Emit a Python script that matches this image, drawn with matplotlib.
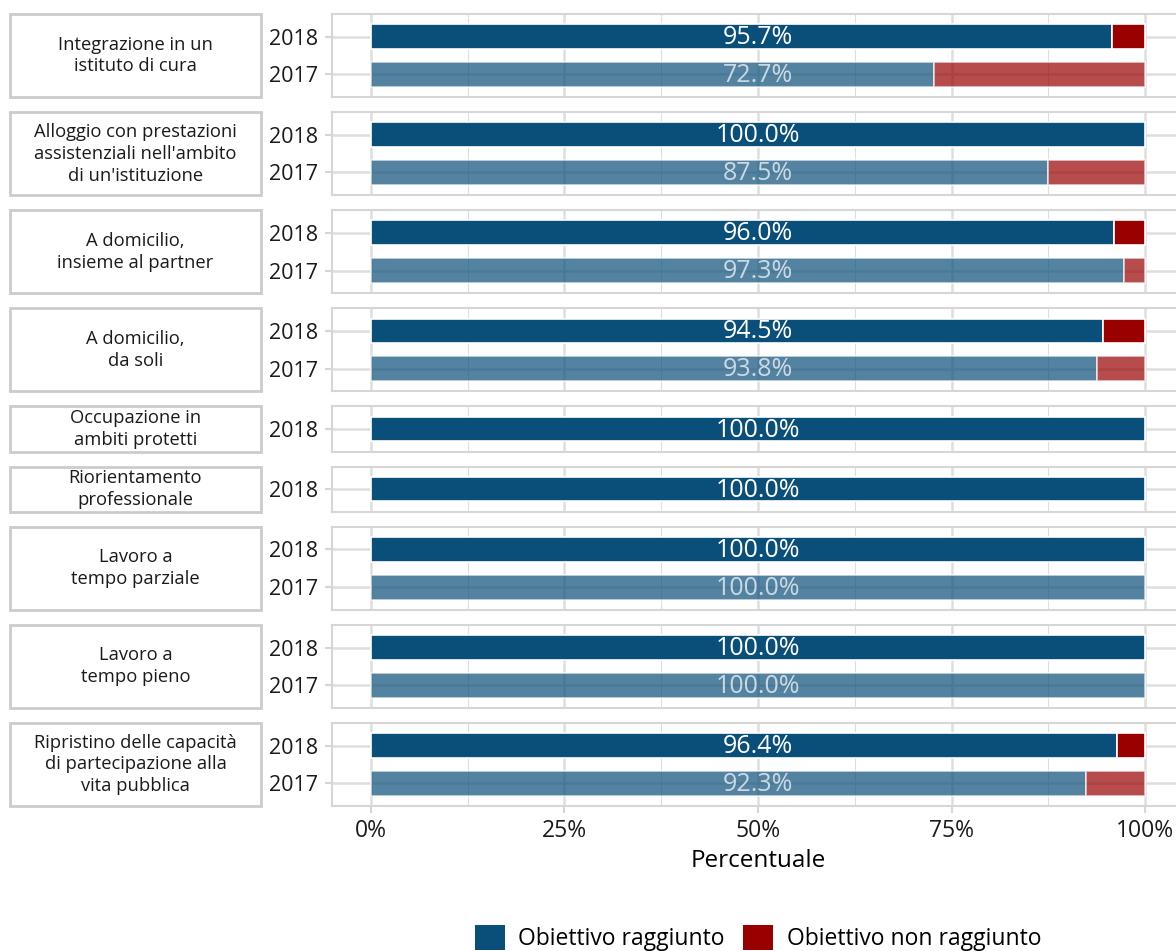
"""Obiettivi raggiunti per tipo di provvedimento, 2017 vs 2018 (facette a strisce)."""

import matplotlib

matplotlib.use("Agg")
import matplotlib.pyplot as plt
from matplotlib.patches import Patch, Rectangle
from matplotlib.ticker import FixedLocator, FuncFormatter

plt.rcParams["font.family"] = ["Open Sans", "DejaVu Sans"]

# --- data -------------------------------------------------------------------
categories = [
    "Integrazione in un\nistituto di cura",
    "Alloggio con prestazioni\nassistenziali nell'ambito\ndi un'istituzione",
    "A domicilio,\ninsieme al partner",
    "A domicilio,\nda soli",
    "Occupazione in\nambiti protetti",
    "Riorientamento\nprofessionale",
    "Lavoro a\ntempo parziale",
    "Lavoro a\ntempo pieno",
    "Ripristino delle capacità\ndi partecipazione alla\nvita pubblica",
]
achieved_2018 = [95.7, 100.0, 96.0, 94.5, 100.0, 100.0, 100.0, 100.0, 96.4]
achieved_2017 = [72.7, 87.5, 97.3, 93.8, None, None, 100.0, 100.0, 92.3]
years = ["2018", "2017"]
x_ticks = [0, 25, 50, 75, 100]
legend_labels = ["Obiettivo raggiunto", "Obiettivo non raggiunto"]

BLUE = "#0a4f79"
RED = "#990000"
GRID = "#dedede"
BORDER = "#d6d6d6"

# --- layout (pixels) ----------------------------------------------------------
W, H = 1176, 951
TOP, BOTTOM, GAP = 14, 806, 15
PANEL_L, PANEL_R = 332, 1184
STRIP_L, STRIP_R = 10, 261

n_bars = [2 if v17 is not None else 1 for v17 in achieved_2017]
ranges = [n - 1 + 1.2 for n in n_bars]
unit = (BOTTOM - TOP - GAP * (len(categories) - 1)) / sum(ranges)

fig = plt.figure(figsize=(W / 100, H / 100), dpi=100)

y_px = TOP
for i, cat in enumerate(categories):
    h_px = ranges[i] * unit
    ax = fig.add_axes([PANEL_L / W, 1 - (y_px + h_px) / H,
                       (PANEL_R - PANEL_L) / W, h_px / H])

    vals = [achieved_2018[i]]
    if achieved_2017[i] is not None:
        vals.append(achieved_2017[i])
    for j, v in enumerate(vals):
        alpha = 1.0 if j == 0 else 0.7
        ax.barh(j, v, height=0.65, color=BLUE, alpha=alpha,
                edgecolor="white", linewidth=1.2, zorder=2)
        if v < 100:
            ax.barh(j, 100 - v, left=v, height=0.65, color=RED, alpha=alpha,
                    edgecolor="white", linewidth=1.2, zorder=2)
        ax.text(50, j + 0.03, f"{v:.1f}%", ha="center", va="center",
                color="white", alpha=alpha, fontsize=18, zorder=3)

    ax.set_xlim(-5, 105)
    ax.set_ylim(len(vals) - 1 + 0.6, -0.6)
    ax.set_yticks(range(len(vals)))
    ax.set_yticklabels(years[:len(vals)])
    ax.xaxis.set_major_locator(FixedLocator(x_ticks))
    ax.xaxis.set_minor_locator(FixedLocator([12.5, 37.5, 62.5, 87.5]))
    ax.set_axisbelow(True)
    ax.grid(which="major", color=GRID, linewidth=1.8)
    ax.grid(which="minor", axis="x", color=GRID, linewidth=0.8)
    for s in ax.spines.values():
        s.set_color(BORDER)
        s.set_linewidth(1.5)
    ax.tick_params(axis="y", length=5, width=1.5, color=BORDER,
                   labelsize=15.5, pad=5, labelcolor="#1a1a1a")
    ax.tick_params(axis="x", which="minor", length=0)

    last = i == len(categories) - 1
    if last:
        ax.tick_params(axis="x", which="major", length=5, width=1.5,
                       color=BORDER, labelsize=16.5, pad=4, labelcolor="#1a1a1a")
        ax.xaxis.set_major_formatter(FuncFormatter(lambda x, _: f"{x:.0f}%"))
        ax.set_xlabel("Percentuale", fontsize=17.5, labelpad=5)
    else:
        ax.tick_params(axis="x", which="major", length=0, labelbottom=False)

    # strip on the left
    fig.add_artist(Rectangle((STRIP_L / W, 1 - (y_px + h_px) / H),
                             (STRIP_R - STRIP_L) / W, h_px / H,
                             transform=fig.transFigure, facecolor="white",
                             edgecolor="#cccccc", linewidth=2))
    fig.text((STRIP_L + STRIP_R) / 2 / W, 1 - (y_px + h_px / 2) / H, cat,
             ha="center", va="center", fontsize=13.2, color="#1a1a1a",
             linespacing=1.28)

    y_px += h_px + GAP

handles = [Patch(facecolor=BLUE), Patch(facecolor=RED)]
fig.legend(handles, legend_labels, loc="center", ncol=2, frameon=False,
           bbox_to_anchor=(758 / W, 1 - 938 / H), fontsize=16.5,
           handlelength=1.3, handleheight=1.3, handletextpad=0.6,
           columnspacing=0.8)

fig.savefig("out.png", dpi=100)
plt.close(fig)
